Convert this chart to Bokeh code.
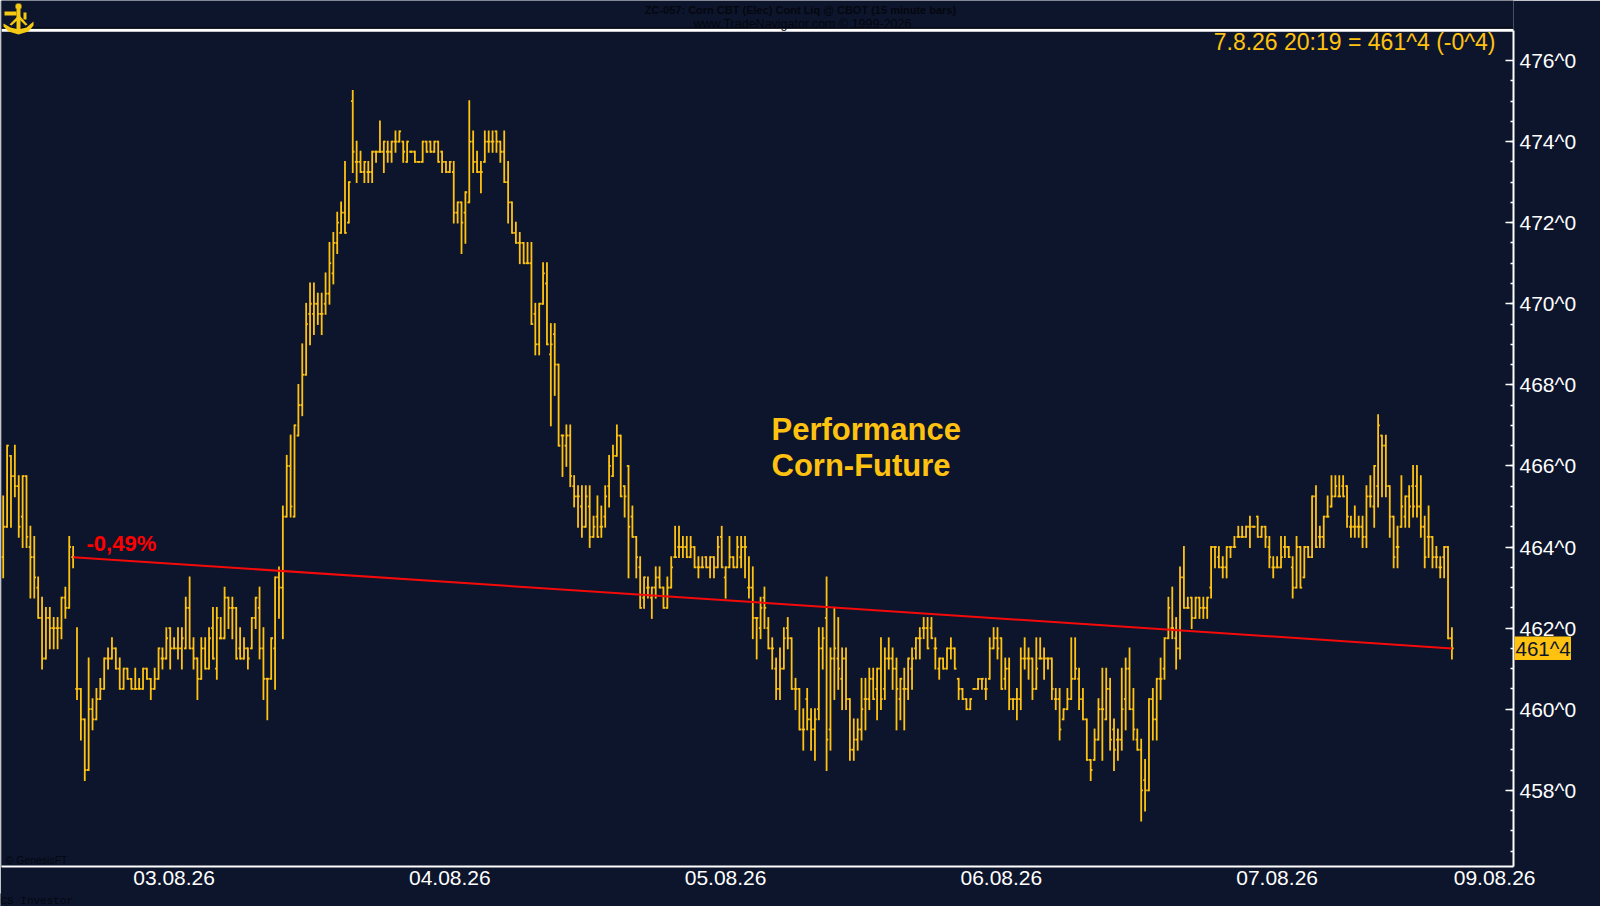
from bokeh.plotting import figure
from bokeh.embed import file_html
from bokeh.resources import INLINE
from bokeh.models import (FixedTicker, Label, LinearAxis, PolyAnnotation, Range1d, Span)

highs = [
465.25,466.5,466.25,466.5,465.75,465.75,465.75,464.5,464.25,463.25,
462.75,462.5,462.5,462.25,462.25,462.75,463,464.25,464,462,
460.5,459.75,461.25,460.25,460.5,460.75,461.25,461.5,461.75,461.5,
461.25,461,461,460.75,461,460.75,461,461,460.75,461,
461.5,461.5,462,462,461.75,462,462,462.75,463.25,461.75,
461.25,461.75,461.75,462,462.5,462.5,462.25,463,462.75,462.75,
462.5,462,461.75,461.5,462.25,462.75,463,462,460.75,461.75,
463.25,463.5,465,466.25,466.75,467,468,469,470,470.5,
470.5,470.25,470.25,470.75,471.5,471.75,472.25,472.5,473.5,473,
475.25,474,473.75,473.5,473.5,473.75,473.75,474.5,474,474,
474,474.25,474.25,474,474,473.75,473.75,473.5,474,474,
474,474,474,473.75,473.5,473.5,473.5,472.5,472.5,472.75,
475,474.25,473.75,473.5,474.25,474.25,474.25,474.25,474,474.25,
473.5,472.5,472,471.75,471.5,471.5,471.5,470,470,471,
471,469.5,469.5,468.5,466.75,467,467,465.75,465.5,465.5,
465.5,465.5,464.75,465.25,465,465.5,466.25,466.5,467,466.75,
465.5,466,465,464.25,463.75,463.25,463.25,463,463.5,463.5,
463,463.25,463.75,464.5,464.5,464.25,464.25,464.25,464,463.75,
463.75,463.75,463.75,463.75,464.25,464.5,463.5,464.25,463.75,464.25,
464.25,464.25,463.75,463.5,462.25,462.75,463,462.25,461.75,461.25,
461.5,462,462.25,461.75,460.75,460.5,460,460.5,460,460,
462,462,463.25,461.5,462.5,462.25,461.5,461.5,460.25,459.75,
459.75,460.75,460.75,461,461,461,461.75,461.5,461.75,461.5,
461.25,460.75,461,461.25,461.5,461.75,462,462.25,462.25,462.25,
461.75,461.25,461.25,461.5,461.75,461.5,460.75,460.5,460.25,460.25,
460.5,460.75,460.75,460.75,461.75,462,462,461.75,461.25,461.25,
460.25,460.5,461.5,461.75,461.5,461.25,461.75,461.75,461.5,461.25,
461.25,460.5,460.5,460,460.5,461.75,461.75,461,460.5,459.75,
458.75,459.5,460.25,461,461,460.75,459.75,459.5,461,461.25,
461.5,460.5,459.5,459.25,458.75,460.25,460.5,460.75,461.25,461.75,
462.75,463,462.25,463.5,464,462.75,462.75,462.75,462.75,462.75,
462.75,464,464,464,463.75,464,464,464.25,464.5,464.5,
464.5,464.75,464.5,464.75,464.5,464.5,464.25,463.75,463.75,464.25,
464.25,464,463.75,464.25,464,464,464,465.25,465.5,464.5,
464.75,465.25,465.75,465.75,465.75,465.75,465.5,464.75,465,464.75,
464.75,465.5,465.75,466,467.25,466.75,466.75,465.5,464.75,464.5,
465.75,465.25,465.5,466,466,465.75,464.75,465,464.25,464,
463.75,464,464,462,
]
lows = [
463.25,464.5,464.5,465.25,464.25,464,464,462.75,462.75,462.25,
461,461.25,461.5,461.5,461.5,461.75,462.25,462.5,463.5,460.25,
459.25,458.25,458.5,459.5,459.75,460.25,460.5,461,461.25,461,
460.5,460.5,460.75,460.5,460.5,460.5,460.5,460.75,460.25,460.5,
460.75,461,461.25,461,461.5,461.25,461,461.5,461.5,461,
460.25,460.75,461,461,461.25,460.75,461.75,461.75,462,461.75,
461.25,461.25,461.25,461,461.5,462,461.25,460.25,459.75,460.75,
460.5,462.25,461.75,464.75,464.75,464.75,466.75,467.25,468.25,469,
469.25,469.5,469.25,469.75,470,470.5,471.25,471.75,471.75,472,
473.25,473,473.25,473,473,473,473.5,473.75,473.25,473.5,
473.5,473.75,474,473.5,473.5,473.75,473.5,473.5,473.5,473.75,
473.75,473.75,473.5,473.25,473.25,473.25,472,472,471.25,471.5,
472.5,473.25,473.25,472.75,473.5,473.75,473.75,473.75,473.5,473,
472,471.75,471.5,471,471,471,469.5,468.75,468.75,470,
469,467,467.75,466.5,465.75,466,465.5,465,464.5,464.25,
464.5,464,464.25,464.25,464.25,464.5,465,465.75,466.25,465.25,
464.75,463.25,464.25,463.25,462.5,462.5,462.75,462.25,462.75,463,
462.5,462.5,463,463.75,463.75,463.75,463.75,463.75,463.5,463.25,
463.5,463.5,463.25,463.25,463.5,463.5,462.75,463.5,463.5,463.5,
463.5,463.25,462.75,461.75,461.25,461.75,462,461.5,461,460.25,
460.25,461,461.5,460.5,460,459.5,459,459.5,459,458.75,
459.75,461,458.5,459,460.25,460.5,460,460,458.75,458.75,
459,459.25,459.5,460,460.25,459.75,460,460.25,461,460.5,
459.5,459.75,459.5,460.25,460.5,461.25,461.25,461.75,461.5,461.75,
461,460.75,461,461,461.25,461,460.25,460.25,460,460,
460.5,460.5,460.5,460.25,460.75,461.5,461.25,460.5,460.5,460,
460,459.75,460,461,460.75,460.25,460.5,461.25,460.75,461,
460.25,460,459.25,459.75,460,460.25,460.75,460,459.75,458.75,
458.25,458.75,459.25,458.75,459.75,459,458.5,458.75,459,459.5,
460,459.25,459,457.25,457.5,458,459.25,459.25,460.25,460.75,
461.75,461.75,461,461.25,462.5,462.5,462,462.25,462.25,462.25,
462.25,462.75,463.5,463.5,463.25,463.25,463.75,464,464.25,464.25,
464.25,464,464.5,464.25,464.25,464,463.5,463.25,463.5,463.5,
463.75,463.75,462.75,463,463,463.25,463.75,463.75,464,464,
464,464.75,465,465.25,465.25,465.25,464.5,464.25,464.25,464.25,
464,464,465,464.5,465,465.25,465.25,464.25,463.5,463.5,
464.5,464.5,464.5,464.75,464.75,464.25,463.5,463.75,463.5,463.5,
463.25,463.25,461.75,461.25,
]
opens = [
463.75,464.5,466.25,465.75,465.5,464.75,465.75,464,463.75,463,
462.25,461.25,462.25,462,462,462,462.75,462.5,463.75,460.5,
460.5,459.75,458.5,460,459.75,460.25,460.5,461.25,461.25,461.5,
461,460.5,461,460.75,460.5,460.5,460.5,461,460.75,460.5,
460.75,461.25,461.25,462,461.5,461.5,461.5,461.5,462.5,461.5,
461.25,460.75,461.5,461,462,461,461.75,461.75,462.75,462.5,
462.5,461.5,461.25,461.5,461.5,462.25,462.5,461.5,460.75,460.75,
461.5,463.25,463,464.75,466,464.75,466.75,467.5,468.25,469.75,
469.75,470,469.75,470,470.25,470.75,471.5,471.75,472.25,472,
475,473.5,473.5,473.25,473.25,473.25,473.75,473.75,473.75,473.75,
473.75,474,474,474,473.5,473.75,473.75,473.5,473.5,474,
474,473.75,474,473.75,473.5,473.25,473.25,472.25,472.5,472.25,
472.5,474,473.5,473.25,473.5,474,474,474.25,474,473.75,
473,472.5,471.75,471.5,471.5,471,471,469.75,469,470,
470.5,468.75,469.25,468.5,466.75,466.5,466.75,465.5,465.25,465,
464.5,465,464.25,464.75,464.5,464.75,465.5,465.75,466.25,466.75,
465.5,466,464.75,464.25,463.5,462.75,463,462.75,463,463.25,
463,462.5,463,463.75,464,464,464,463.75,464,463.5,
463.5,463.75,463.5,463.75,463.5,464.25,463.25,463.5,463.75,463.5,
463.75,464,463,463,462.25,462,462.75,462,461.5,461,
460.5,461,462,461.75,460.5,460.5,459.5,460.25,459.75,459.5,
460,461.5,462.25,459.5,461.25,461.25,460.75,461.25,460.25,459,
459.25,459.5,460.25,460.25,460.75,460.5,461,460.5,461.25,461.25,
461,460.25,460.5,460.5,461,461.5,461.75,462,462,462,
461.5,461,461.25,461,461.5,461.5,460.75,460.5,460.25,460,
460.5,460.5,460.75,460.5,460.75,461.5,461.75,461.75,460.75,461,
460.25,460.25,460.25,461.25,461.25,461.25,460.5,461.25,461.25,461.25,
461.25,460.25,460.25,459.75,460,460.25,460.75,460.75,460.25,459.75,
458.75,458.75,459.25,460,459.75,460.5,459.5,459.25,459.25,460.25,
461,460,459.25,459,458.25,458,460.25,459.75,460.75,461,
461.75,462,461.75,461.5,463.25,462.5,462.75,462.25,462.75,462.5,
462.5,463,464,463.75,463.5,463.5,464,464,464.25,464.25,
464.25,464.5,464.5,464.75,464.25,464.5,464,463.5,463.5,463.5,
464,464,463.5,463,464,463.25,464,463.75,465.25,464.25,
464.25,464.75,465,465.25,465.25,465.5,465.5,464.5,464.5,464.5,
464.5,464.25,465.25,465,465.5,466.75,466.5,465.5,464.75,464,
464.5,464.75,465.25,465.5,465.5,465,464.5,464.25,464.25,463.75,
463.5,463.75,464,461.75,
]
closes = [
464.5,466.5,465.75,465.5,464.5,465.75,464.25,463.75,463.25,462.25,
461.25,462.25,462,462,462,462.75,462.5,464,463.75,460.5,
459.75,458.5,460,459.75,460.25,460.5,461.25,461.25,461.5,461,
460.5,461,460.75,460.5,460.5,460.5,461,460.75,460.5,460.75,
461.5,461.25,461.75,461.5,461.5,461.5,461.75,462.5,461.5,461.25,
460.75,461.5,461,461.75,461.25,462.25,461.75,462.75,462.5,462.5,
461.25,461.25,461.5,461.25,462.25,462.75,461.5,460.75,460.75,461.75,
463.25,463,464.75,466,465,467,467.5,468.25,469.5,470,
470,469.75,469.75,470.25,471,471.5,472,472.25,471.75,473,
473.75,473.5,473.25,473.5,473.25,473.75,473.75,473.75,474,473.75,
474,474,474.25,473.75,474,473.75,473.5,473.5,474,473.75,
473.75,474,473.5,473.5,473.25,473.5,472.25,472.5,472,472.75,
474,473.5,473.25,473.25,474,474,474,474,473.75,473,
472.5,471.75,471.5,471.5,471,471,469.5,469,470,470.75,
469,469,468.5,466.5,466.75,466.75,465.75,465.25,465.25,464.5,
465.25,464.25,464.5,464.25,464.5,465.25,466,466.25,466.75,465.25,
465.25,464.5,464.25,463.75,462.5,463.25,463,463,463.25,463,
462.5,463,463.5,463.75,464,464,463.75,464,463.5,463.5,
463.5,463.5,463.75,463.5,464,463.5,463.5,463.75,463.5,464,
464,464,463,462.25,462.25,462.5,462.5,461.5,461.5,460.5,
461,461.75,461.75,460.5,460.5,459.5,459.5,459.75,459.5,459.75,
461.5,461.75,459.25,461.25,461.5,461,461.25,460.25,459,459.25,
459.5,460,460.25,460.75,460.25,461,460.25,461.25,461.25,461,
460.5,460.75,460.5,461.25,461.25,461.75,461.75,462,461.5,461.75,
461.5,461.25,461,461.5,461.5,461,460.5,460.25,460,460.25,
460.5,460.75,460.75,460.5,461.5,461.75,461.5,460.5,461,460.25,
460.25,460.25,461.25,461.25,461.25,460.5,461,461.25,461.25,461.25,
460.5,460.25,459.5,460,460.25,460.75,461,460.25,459.75,458.75,
458.5,459.25,460,460,460.5,459.25,459,459.25,460,461,
460,459.5,459,458,458,460.25,459.75,460.75,460.75,461.75,
462.5,462,461.5,463.25,462.5,462.5,462.25,462.75,462.5,462.5,
462.75,464,464,463.5,463.5,464,464,464,464.25,464.25,
464.5,464.5,464.5,464.25,464.5,464.25,463.75,463.5,463.5,463.75,
464,463.75,463,464,463,464,463.75,465.25,464,464.25,
464.75,464.75,465.25,465.5,465.25,465.25,464.75,464.5,464.5,464.5,
464.25,465.25,465.25,466,467,466.5,465.5,464.75,463.75,464,
465,465.25,465,465,465,464.5,463.75,464.25,463.75,463.75,
463.5,464,461.75,461.5,
]
y_ticks = [458, 460, 462, 464, 466, 468, 470, 472, 474, 476]
y_labels = ["458^0", "460^0", "462^0", "464^0", "466^0", "468^0", "470^0", "472^0", "474^0", "476^0"]
date_ticks = [44, 115, 186, 257, 328, 384]
date_labels = ["03.08.26", "04.08.26", "05.08.26", "06.08.26", "07.08.26", "09.08.26"]

BG = "#0C152C"
GOLD = "#FFC211"
DIM = "#05070F"
FONT = "Liberation Sans"
TOP_VALUE = 476.747

n = len(highs)
assert len(lows) == n and len(opens) == n and len(closes) == n, (n, len(lows), len(opens), len(closes))
idx = list(range(n))

p = figure(width=1600, height=906, output_backend="svg", toolbar_location=None,
           x_range=Range1d(-0.44, 388.86), y_range=Range1d(456.12, 477.48),
           background_fill_color=BG, border_fill_color=BG,
           min_border_left=1, min_border_right=87, min_border_top=0, min_border_bottom=40,
           x_axis_location=None, y_axis_location=None)
p.styles = {"position": "absolute", "left": "0px", "top": "0px"}
p.grid.visible = False
p.outline_line_color = None

TICK = 0.45
p.segment(idx, lows, idx, highs, line_color=GOLD, line_width=1.8, line_cap="square")
p.segment([i - TICK for i in idx], opens, idx, opens, line_color=GOLD, line_width=1.8)
p.segment(idx, closes, [i + TICK for i in idx], closes, line_color=GOLD, line_width=1.8)
p.line([18, n - 1], [closes[18], closes[n - 1]], line_color="#F50A0A", line_width=2)

yaxis = LinearAxis(
    ticker=FixedTicker(ticks=y_ticks, minor_ticks=[456.5 + 0.5 * k for k in range(39)]),
    major_label_overrides=dict(zip(y_ticks, y_labels)), bounds=(456.12, TOP_VALUE),
    major_label_text_color="white", major_label_text_font=FONT, major_label_text_font_size="21px",
    major_label_standoff=6, axis_line_color="white", axis_line_width=2,
    major_tick_line_color="white", major_tick_line_width=1.5, major_tick_in=8, major_tick_out=0,
    minor_tick_line_color="white", minor_tick_line_width=1.5, minor_tick_in=3, minor_tick_out=0)
p.add_layout(yaxis, "right")

xaxis = LinearAxis(
    ticker=FixedTicker(ticks=date_ticks, minor_ticks=[]),
    major_label_overrides=dict(zip(date_ticks, date_labels)),
    major_label_text_color="white", major_label_text_font=FONT, major_label_text_font_size="21px",
    major_label_standoff=4, axis_line_color="white", axis_line_width=2,
    major_tick_line_color=None, major_tick_in=0, major_tick_out=0, minor_tick_line_color=None)
p.add_layout(xaxis, "below")

p.add_layout(Span(location=TOP_VALUE, dimension="width", line_color="white", line_width=3))
p.add_layout(Span(location=476.8, dimension="width", line_color="#000000", line_width=1))


def label(fig, text, x, y, color, size, bold=False, font=FONT, align="left"):
    fig.add_layout(Label(x=x, y=y, x_units="canvas", y_units="canvas", text=text,
                         text_color=color, text_font=font, text_font_size=f"{size}px",
                         text_font_style="bold" if bold else "normal",
                         text_align=align, text_baseline="middle"))


def inset(left, top, width, height, fill):
    """A small figure laid over the main one, for what lies outside the main plot frame."""
    q = figure(width=width, height=height, output_backend="svg", toolbar_location=None,
               x_range=Range1d(0, 1), y_range=Range1d(0, 1),
               background_fill_color=fill, border_fill_color=fill, min_border=0,
               x_axis_location=None, y_axis_location=None)
    q.styles = {"position": "absolute", "left": f"{left}px", "top": f"{top}px"}
    q.grid.visible = False
    q.outline_line_color = None
    return q


label(p, "ZC-057:  Corn CBT (Elec) Cont Liq @ CBOT  (15 minute bars)", 803, 9, DIM, 11, bold=True, align="center")
label(p, "www.TradeNavigator.com © 1999-2026", 802, 23, DIM, 12.5, align="center")
label(p, "© GenesisFT", 5, 859, DIM, 10.5)
label(p, "7.8.26 20:19 = 461^4 (-0^4)", 1495, 41, GOLD, 23, align="right")
label(p, "Performance", 771, 429, GOLD, 31, bold=True)
label(p, "Corn-Future", 771, 465, GOLD, 31, bold=True)
label(p, "-0,49%", 86, 543, "#FF0000", 22, bold=True)

price_box = inset(1514, 636, 57, 24, GOLD)
label(price_box, "461^4", 1, 12, BG, 20.5)

investor = inset(0, 893, 90, 13, BG)
label(investor, "CS Investor", 0, 7, DIM, 11, font="Liberation Mono")

# small anchor-and-sextant emblem in the top left corner
emblem = [
    ([4, 16, 16, 4], [11, 11, 15, 15]),
    ([16, 20, 20, 16], [3, 3, 33, 33]),
    ([15, 21, 21, 15], [4, 4, 8, 8]),
    ([3, 10, 18, 26, 33, 33, 28, 18, 8, 3], [23, 27, 29, 27, 21, 25, 31, 34, 31, 26]),
    ([18, 20, 11, 9], [15, 17, 25, 24]),
    ([17, 19, 27, 25], [17, 15, 24, 25]),
    ([23, 26, 26, 23], [12, 12, 19, 19]),
]
for xs, ys in emblem:
    p.add_layout(PolyAnnotation(xs=xs, ys=ys, xs_units="canvas", ys_units="canvas",
                                fill_color="#F3C913", fill_alpha=1, line_color=None, level="overlay"))

open("out.html", "w").write(file_html([p, price_box, investor], INLINE))
